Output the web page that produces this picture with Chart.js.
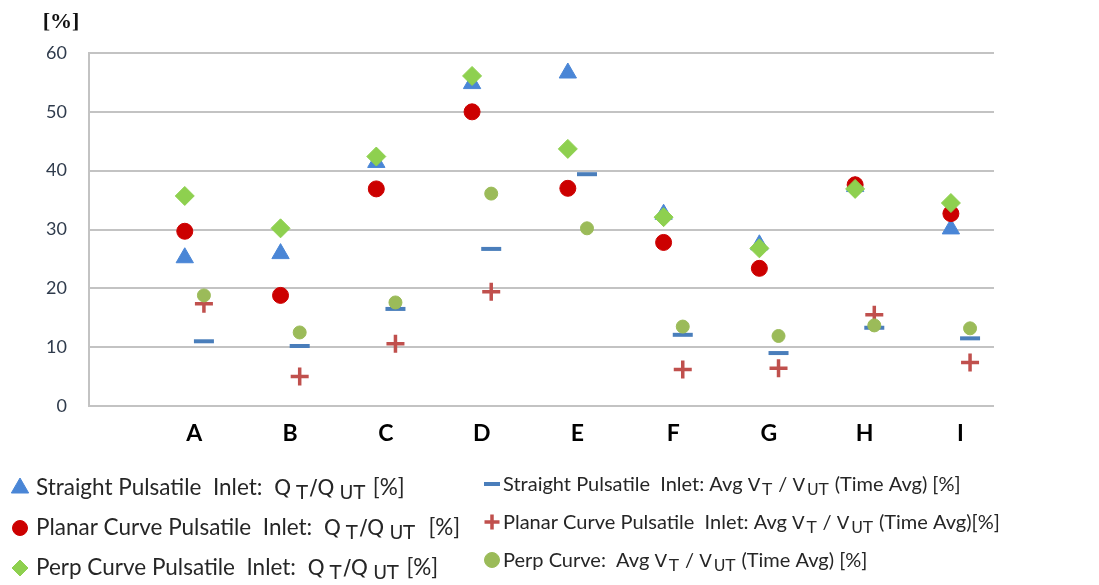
<!DOCTYPE html>
<html>
<head>
<meta charset="utf-8">
<script src="https://cdn.jsdelivr.net/npm/chart.js@4.4.1/dist/chart.umd.min.js"></script>
<style>
  html, body { margin: 0; padding: 0; background: #ffffff; overflow: hidden; }
  #wrap { width: 1099px; height: 585px; position: relative; }
</style>
</head>
<body>
<div id="wrap"><canvas id="chart" width="1099" height="585"></canvas></div>
<script>
// Cases along the horizontal axis
const categories = ['A', 'B', 'C', 'D', 'E', 'F', 'G', 'H', 'I'];
// Vertical axis ticks [%]
const yTicks = [0, 10, 20, 30, 40, 50, 60];

// Flow ratio Q_T / Q_UT [%]
const straightQ = [25.2, 25.9, 41.4, 54.8, 56.6, 32.6, 27.4, 37.3, 30.1];
const planarQ   = [29.7, 18.8, 36.9, 50.0, 37.0, 27.8, 23.4, 37.6, 32.7];
const perpQ     = [35.7, 30.2, 42.4, 56.1, 43.7, 32.1, 26.8, 36.9, 34.5];

// Time averaged velocity ratio Avg V_T / V_UT [%]
const straightV = [11.0, 10.2, 16.5, 26.7, 39.4, 12.1, 9.0, 13.3, 11.5];
const planarV   = [17.4, 5.0, 10.6, 19.4, null, 6.2, 6.4, 15.5, 7.4];
const perpV     = [18.8, 12.5, 17.6, 36.1, 30.2, 13.5, 11.9, 13.7, 13.2];

// Legend texts; $...$ is set in the symbol font, _{...} marks a subscript
const legendLabels = [
  'Straight Pulsatile  Inlet:  $Q_{T}/Q_{UT}$ [%]',
  'Planar Curve Pulsatile  Inlet:  $Q_{T}/Q_{UT}$  [%]',
  'Perp Curve Pulsatile  Inlet:  $Q_{T}/Q_{UT}$ [%]',
  'Straight Pulsatile  Inlet: Avg $V_{T}$ / $V_{UT}$ (Time Avg) [%]',
  'Planar Curve Pulsatile  Inlet: Avg $V_{T}$ / $V_{UT}$ (Time Avg)[%]',
  'Perp Curve:  Avg $V_{T}$ / $V_{UT}$ (Time Avg) [%]'
];

// Q series sit on the case position, velocity series a little to the right
const toPoints = (vals, shift) =>
  vals.map((v, i) => (v === null ? null : { x: i + 1 + shift, y: v })).filter(p => p);

const seriesDefs = [
  { vals: straightQ, shift: 0,   color: '#4a86d6', style: 'triangle', r: 10,  bw: 1,   order: 6, lr: 10 },
  { vals: planarQ,   shift: 0,   color: '#cc0000', style: 'circle',   r: 8,   bw: 1,   order: 5, lr: 7.5 },
  { vals: perpQ,     shift: 0,   color: '#8ed04f', style: 'rectRot',  r: 9.5, bw: 1,   order: 4, lr: 8 },
  { vals: straightV, shift: 0.2, color: '#4a7ebb', style: 'line',     r: 10,  bw: 4,   order: 3, lr: 8 },
  { vals: planarV,   shift: 0.2, color: '#c0504d', style: 'cross',    r: 9,   bw: 3.5, order: 2, lr: 7.5 },
  { vals: perpV,     shift: 0.2, color: '#9bbb59', style: 'circle',   r: 6.5, bw: 1,   order: 1, lr: 7.5 }
];

const datasets = seriesDefs.map((s, i) => ({
  label: legendLabels[i].replace(/_\{([^}]*)\}/g, '$1').replace(/\$/g, ''),
  richLabel: legendLabels[i],
  data: toPoints(s.vals, s.shift),
  showLine: false,
  order: s.order,
  pointStyle: s.style,
  pointRadius: s.r,
  pointBorderWidth: s.bw,
  pointBackgroundColor: s.color,
  pointBorderColor: s.color,
  backgroundColor: s.color,
  borderColor: s.color,
  legendRadius: s.lr
}));

const GRID = '#c3c3c3';
const TEXT = '#262626';

// "[%]" unit label above the value axis
const unitLabel = {
  id: 'unitLabel',
  afterDraw(chart) {
    const ctx = chart.ctx;
    const yScale = chart.scales.y;
    ctx.save();
    ctx.font = 'bold 22px "Liberation Serif", serif';
    ctx.fillStyle = '#111111';
    ctx.textAlign = 'center';
    ctx.textBaseline = 'middle';
    ctx.fillText('[%]', yScale.left + 61, yScale.top - 31);
    ctx.restore();
  }
};

// Split a label into runs: plain text, symbol text and subscripts
function parseRich(str) {
  const runs = [];
  let sym = false, buf = '';
  const flush = kind => { if (buf) runs.push({ text: buf, kind }); buf = ''; };
  for (let i = 0; i < str.length; i++) {
    const ch = str[i];
    if (ch === '$') { flush(sym ? 'sym' : 'text'); sym = !sym; continue; }
    if (ch === '_' && str[i + 1] === '{') {
      flush(sym ? 'sym' : 'text');
      const end = str.indexOf('}', i);
      runs.push({ text: str.slice(i + 2, end), kind: 'sub' });
      i = end;
      continue;
    }
    buf += ch;
  }
  flush(sym ? 'sym' : 'text');
  return runs;
}

function markerPath(ctx, style, r, x, y) {
  ctx.beginPath();
  if (style === 'triangle') {
    ctx.moveTo(x, y - r);
    ctx.lineTo(x + Math.sin(2 * Math.PI / 3) * r, y + r / 2);
    ctx.lineTo(x - Math.sin(2 * Math.PI / 3) * r, y + r / 2);
    ctx.closePath();
  } else if (style === 'circle') {
    ctx.arc(x, y, r, 0, Math.PI * 2);
  } else if (style === 'rectRot') {
    ctx.moveTo(x - r, y); ctx.lineTo(x, y - r); ctx.lineTo(x + r, y); ctx.lineTo(x, y + r);
    ctx.closePath();
  } else if (style === 'line') {
    ctx.moveTo(x - r, y); ctx.lineTo(x + r, y);
  } else if (style === 'cross') {
    ctx.moveTo(x - r, y); ctx.lineTo(x + r, y);
    ctx.moveTo(x, y - r); ctx.lineTo(x, y + r);
  }
}

// Two-column legend under the plot, with subscripted symbols
const richLegend = {
  id: 'richLegend',
  afterDraw(chart) {
    const ctx = chart.ctx;
    const cols = [
      { mx: 20,  tx: 36,  rows: [488, 528, 568], text: 22.5, sym: 22, sub: 19, gap: 5, after: 2, dy: 4 },
      { mx: 492, tx: 503, rows: [484, 522, 560], text: 20, sym: 18.5, sub: 16, gap: 2, after: 1, dy: 4 }
    ];
    chart.data.datasets.forEach((ds, i) => {
      const col = cols[i < 3 ? 0 : 1];
      const y = col.rows[i % 3];
      ctx.save();
      ctx.fillStyle = ds.pointBackgroundColor;
      ctx.strokeStyle = ds.pointBorderColor;
      ctx.lineWidth = ds.pointBorderWidth;
      markerPath(ctx, ds.pointStyle, ds.legendRadius, col.mx, y);
      if (ds.pointStyle !== 'line' && ds.pointStyle !== 'cross') ctx.fill();
      ctx.stroke();
      ctx.restore();

      ctx.save();
      ctx.fillStyle = TEXT;
      ctx.textBaseline = 'alphabetic';
      ctx.textAlign = 'left';
      let x = col.tx;
      const base = y + 7;
      parseRich(ds.richLabel).forEach(run => {
        let dy = 0;
        if (run.kind === 'text') {
          ctx.font = col.text + 'px Lato, sans-serif';
        } else if (run.kind === 'sym') {
          ctx.font = col.sym + 'px "DejaVu Sans", sans-serif';
        } else {
          ctx.font = col.sub + 'px "DejaVu Sans", sans-serif';
          x += col.gap;
          dy = col.dy;
        }
        ctx.fillText(run.text, x, base + dy);
        x += ctx.measureText(run.text).width;
        if (run.kind === 'sub') x += col.after;
      });
      ctx.restore();
    });
  }
};

new Chart(document.getElementById('chart'), {
  type: 'scatter',
  data: { datasets },
  options: {
    responsive: false,
    animation: false,
    devicePixelRatio: 1,
    events: [],
    layout: { padding: { top: 53, right: 105, left: 0, bottom: 0 } },
    plugins: {
      legend: { display: false },
      tooltip: { enabled: false },
      title: { display: false }
    },
    scales: {
      x: {
        type: 'linear',
        min: 0,
        max: 9.45,
        afterFit(scale) { scale.height = 179; },
        afterBuildTicks(scale) {
          scale.ticks = categories.map((c, i) => ({ value: i + 1.1 }));
        },
        grid: { display: false, drawTicks: false, tickLength: 0 },
        border: { display: false },
        ticks: {
          autoSkip: false,
          maxRotation: 0,
          padding: 14,
          color: '#000000',
          font: { family: 'Lato', size: 23, weight: 'bold' },
          callback: (v, i) => categories[i]
        }
      },
      y: {
        min: 0,
        max: 60,
        afterFit(scale) { scale.width = 89; },
        afterBuildTicks(scale) {
          scale.ticks = yTicks.map(v => ({ value: v }));
        },
        grid: { color: GRID, lineWidth: 2, drawTicks: false, tickLength: 0 },
        border: { display: true, color: GRID, width: 2 },
        ticks: {
          padding: 22,
          color: '#2f3b4c',
          font: { family: 'Lato', size: 18 }
        }
      }
    }
  },
  plugins: [unitLabel, richLegend]
});
</script>
</body>
</html>
